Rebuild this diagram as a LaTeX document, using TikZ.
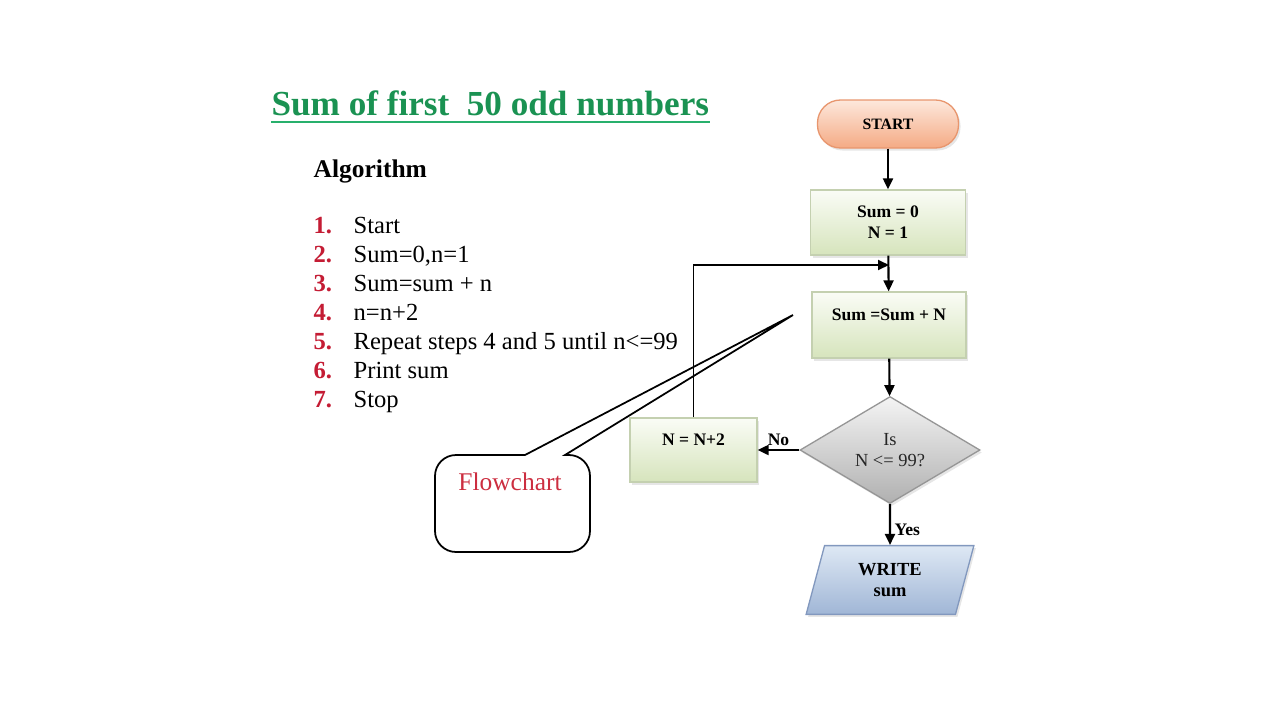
\documentclass[tikz,border=0pt]{standalone}
\usepackage{fontspec}
\setmainfont{Liberation Serif}
\usetikzlibrary{shapes.geometric,arrows.meta,shadows}
\definecolor{titlegreen}{RGB}{26,146,82}
\definecolor{lineg}{RGB}{40,176,108}
\definecolor{numred}{RGB}{196,28,52}
\definecolor{callred}{RGB}{204,46,64}
\definecolor{starttop}{RGB}{253,232,220}
\definecolor{startbot}{RGB}{244,170,132}
\definecolor{startline}{RGB}{232,150,110}
\definecolor{boxtop}{RGB}{250,252,246}
\definecolor{boxbot}{RGB}{214,228,188}
\definecolor{boxline}{RGB}{196,208,176}
\definecolor{testtop}{RGB}{244,244,244}
\definecolor{testbot}{RGB}{176,176,176}
\definecolor{testline}{RGB}{150,150,150}
\definecolor{iotop}{RGB}{222,232,244}
\definecolor{iobot}{RGB}{160,182,214}
\definecolor{ioline}{RGB}{130,152,190}
\begin{document}
\begin{tikzpicture}
[font=\fontsize{14}{16}\selectfont, line width=0.75pt,
title/.style={anchor=base west, inner sep=0pt, text=titlegreen, font=\fontsize{20}{24}\selectfont\bfseries},
item/.style={anchor=base west, inner sep=0pt},
num/.style={anchor=base west, inner sep=0pt, text=numred, font=\fontsize{14}{16}\selectfont\bfseries},
soft/.style={drop shadow={shadow xshift=0.04cm, shadow yshift=-0.05cm, opacity=0.2}},
startbox/.style={rectangle, rounded corners=0.46cm, draw=startline, top color=starttop, bottom color=startbot, soft, inner sep=0pt, minimum width=2.82cm, minimum height=0.96cm, font=\fontsize{9}{10}\selectfont\bfseries},
box/.style={rectangle, draw=boxline, top color=boxtop, bottom color=boxbot, soft, inner sep=0pt, minimum width=3.1cm, minimum height=1.3cm, align=center, font=\fontsize{10}{12}\selectfont\bfseries},
upper/.style={text height=0.25cm, text depth=0.42cm},
test/.style={diamond, draw=testline, top color=testtop, bottom color=testbot, soft, inner sep=0pt, minimum width=3.6cm, minimum height=2.14cm, align=center, text=black!85, font=\fontsize{10.5}{12}\selectfont},
io/.style={trapezium, trapezium left angle=75, trapezium right angle=105, draw=ioline, top color=iotop, bottom color=iobot, soft, inner sep=0pt, minimum width=3.38cm, minimum height=1.3cm, align=center, font=\fontsize{10.5}{12}\selectfont\bfseries},
lbl/.style={inner sep=2pt, font=\fontsize{10}{12}\selectfont\bfseries},
flow/.style={-{Triangle[length=2.2mm,width=2mm]}, line width=1.2pt}]

\useasboundingbox (0,0) rectangle (25.6,-14.4);

\node[title] (title) at (5.42,-2.30) {Sum of first\ \ 50 odd numbers};
\draw[lineg, line width=1.6pt] ([yshift=-0.14cm]title.base west) -- ([yshift=-0.14cm]title.base east);

\node[item, font=\fontsize{14.5}{16}\selectfont\bfseries] (algo) at (6.26,-3.54) {Algorithm};

\foreach \i/\t in {1/Start, 2/{Sum=0,n=1}, 3/{Sum=sum + n}, 4/{n=n+2},
  5/{Repeat steps 4 and 5 until n<=99}, 6/{Print sum}, 7/Stop} {
  \node[num] (num\i) at (6.26,-4.66-0.58*\i+0.58) {\i.};
  \node[item] (step\i) at (7.06,-4.66-0.58*\i+0.58) {\t};
}

\node[startbox] (start) at (17.76,-2.48) {START};
\node[box] (init) at (17.76,-4.45) {Sum = 0\\N = 1};
\node[box, upper, minimum width=3.08cm, minimum height=1.32cm] (add) at (17.78,-6.5) {Sum =Sum + N};
\node[test] (check) at (17.8,-9.0) {Is\\N <= 99?};
\node[box, upper, minimum width=2.54cm, minimum height=1.28cm] (incr) at (13.87,-9.0) {N = N+2};
\node[io] (write) at (17.8,-11.6) {WRITE\\sum};
\coordinate (join) at (17.78,-5.3);

\draw[flow] (start) -- (init);
\draw[flow] (init) -- (add);
\draw[flow] (add) -- (check);
\draw[flow] (check) -- node[lbl, above] (no) {No} (incr);
\draw[flow] (check) -- node[lbl, right, pos=0.64] (yes) {Yes} (write);
\draw[flow, line width=1.1pt] (incr.north) |- (join);

\node[text=callred, font=\fontsize{14.5}{16}\selectfont] (chart) at (10.2,-9.64) {Flowchart};
\draw[line width=1pt] (10.5,-9.1) -- (15.86,-6.3) -- (11.3,-9.1) [rounded corners=0.42cm]
  -- (11.8,-9.1) -- (11.8,-11.04) -- (8.7,-11.04) -- (8.7,-9.1) -- (10.5,-9.1);

\end{tikzpicture}
\end{document}
